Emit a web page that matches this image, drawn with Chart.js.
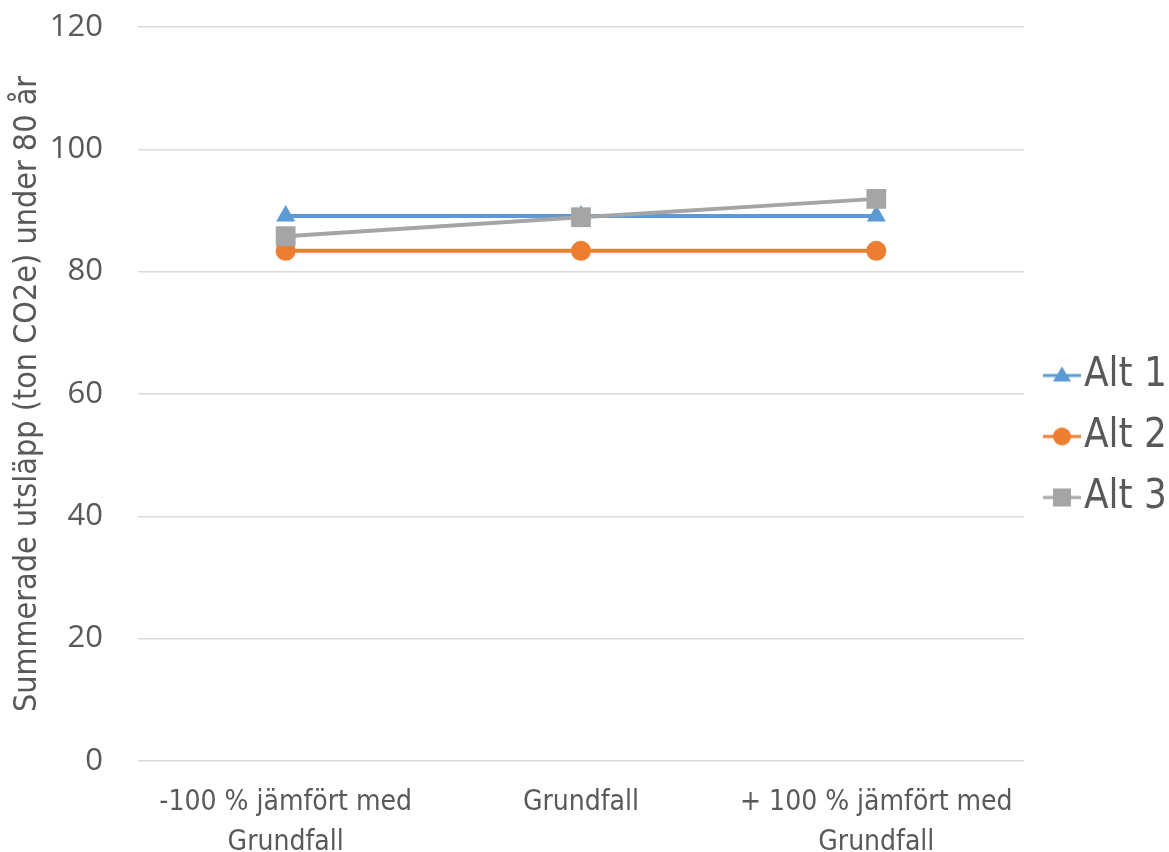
<!DOCTYPE html>
<html>
<head>
<meta charset="utf-8">
<script src="https://cdn.jsdelivr.net/npm/chart.js@4.4.0/dist/chart.umd.min.js"></script>
<style>
  html, body { margin: 0; padding: 0; background: #fff; }
  #wrap { width: 1169px; height: 852px; }
</style>
</head>
<body>
<div id="wrap"><canvas id="myChart" width="1169" height="852"></canvas></div>
<script>
const categories = [
    ['-100 % jämfört med', 'Grundfall'],
    'Grundfall',
    ['+ 100 % jämfört med', 'Grundfall']
];
const alt1 = [89.1, 89.1, 89.1];
const alt2 = [83.4, 83.4, 83.4];
const alt3 = [85.8, 88.9, 91.9];
const yTicks = [0, 20, 40, 60, 80, 100, 120];

const textColor = '#595959';
const narrowFont = "'Liberation Sans Narrow', 'DejaVu Sans Condensed', sans-serif";

// legend symbol: line segment with the series marker, drawn in the right part
// of the canvas (the empty left part keeps the label close to the symbol)
function legendSymbol(color, style) {
    const c = document.createElement('canvas');
    c.width = 59;
    c.height = 24;
    const ctx = c.getContext('2d');
    const x0 = 21;
    const cx = x0 + 19;
    ctx.strokeStyle = color;
    ctx.lineWidth = 3;
    ctx.beginPath();
    ctx.moveTo(x0, 12);
    ctx.lineTo(x0 + 38, 12);
    ctx.stroke();
    ctx.fillStyle = color;
    ctx.beginPath();
    if (style === 'triangle') {
        ctx.moveTo(cx, 3);
        ctx.lineTo(cx + 9, 18);
        ctx.lineTo(cx - 9, 18);
        ctx.closePath();
    } else if (style === 'circle') {
        ctx.arc(cx, 12, 9, 0, Math.PI * 2);
    } else {
        ctx.rect(cx - 9, 3, 18, 18);
    }
    ctx.fill();
    return c;
}

const seriesInfo = [
    { label: 'Alt 1', data: alt1, color: '#5b9bd5', style: 'triangle', radius: 11, order: 3 },
    { label: 'Alt 2', data: alt2, color: '#ed7d31', style: 'circle', radius: 10, order: 2 },
    { label: 'Alt 3', data: alt3, color: '#a5a5a5', style: 'rect', radius: 14, order: 1 }
];

const datasets = seriesInfo.map(s => ({
    label: s.label,
    data: s.data,
    borderColor: s.color,
    backgroundColor: s.color,
    borderWidth: 4,
    pointStyle: s.style,
    pointRadius: s.radius,
    pointBorderWidth: 0,
    order: s.order,
    tension: 0
}));

const config = {
    type: 'line',
    data: {
        labels: categories,
        datasets: datasets
    },
    options: {
        responsive: false,
        animation: false,
        layout: {
            padding: { top: 27, right: -8, bottom: 0, left: 0 }
        },
        plugins: {
            tooltip: { enabled: false },
            legend: {
                position: 'right',
                labels: {
                    color: textColor,
                    font: { family: narrowFont, size: 40, lineHeight: 1.15 },
                    usePointStyle: true,
                    pointStyleWidth: 25,
                    padding: 15,
                    generateLabels: function () {
                        // text as an array so the row height follows the font lineHeight
                        return seriesInfo.map((s, i) => ({
                            text: [s.label],
                            fontColor: textColor,
                            pointStyle: legendSymbol(s.color, s.style),
                            datasetIndex: i,
                            lineWidth: 0,
                            strokeStyle: 'transparent',
                            fillStyle: s.color
                        }));
                    }
                }
            }
        },
        scales: {
            x: {
                offset: true,
                grid: { display: false, drawTicks: false },
                border: { display: false },
                ticks: {
                    color: textColor,
                    font: { family: narrowFont, size: 28, lineHeight: 1.43 },
                    maxRotation: 0,
                    autoSkip: false,
                    padding: 22
                },
                afterFit: scale => {
                    scale.height = 91;
                }
            },
            y: {
                min: 0,
                max: 120,
                afterBuildTicks: axis => {
                    axis.ticks = yTicks.map(v => ({ value: v }));
                },
                afterFit: scale => {
                    scale.width = 138;
                    scale.paddingTop = 0;
                    scale.paddingBottom = 0;
                },
                grid: {
                    color: '#d9d9d9',
                    lineWidth: 1.5,
                    drawTicks: false
                },
                border: { display: false },
                ticks: {
                    color: textColor,
                    font: { family: "'Open Sans', sans-serif", size: 31 },
                    padding: 35
                },
                title: {
                    display: true,
                    text: 'Summerade utsläpp (ton CO2e) under 80 år',
                    color: textColor,
                    font: { family: narrowFont, size: 32 },
                    padding: { top: 8, bottom: 0 }
                }
            }
        }
    }
};

new Chart(document.getElementById('myChart'), config);
</script>
</body>
</html>
